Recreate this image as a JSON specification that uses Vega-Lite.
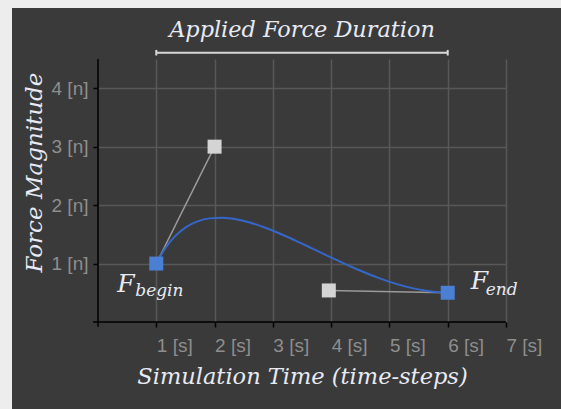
{
  "$schema": "https://vega.github.io/schema/vega-lite/v6.json",
  "width": 408,
  "height": 263,
  "autosize": {"type": "none"},
  "padding": {"left": 98, "top": 59, "right": 55, "bottom": 87},
  "background": "#3a3a3a",
  "config": {"view": {"stroke": null}},
  "datasets": {
    "points": [
      {"name": "F_begin", "x": 1, "y": 1, "kind": "endpoint", "handle": "begin", "symbol": "F", "sub": "begin"},
      {"name": "C1", "x": 2, "y": 3, "kind": "control", "handle": "begin", "symbol": "", "sub": ""},
      {"name": "C2", "x": 3.96, "y": 0.54, "kind": "control", "handle": "end", "symbol": "", "sub": ""},
      {"name": "F_end", "x": 6, "y": 0.5, "kind": "endpoint", "handle": "end", "symbol": "F", "sub": "end"}
    ],
    "curve": [
      {"step": 0, "x": 1.0, "y": 1.0},
      {"step": 1, "x": 1.157, "y": 1.268},
      {"step": 2, "x": 1.328, "y": 1.473},
      {"step": 3, "x": 1.511, "y": 1.623},
      {"step": 4, "x": 1.707, "y": 1.721},
      {"step": 5, "x": 1.915, "y": 1.773},
      {"step": 6, "x": 2.134, "y": 1.784},
      {"step": 7, "x": 2.363, "y": 1.758},
      {"step": 8, "x": 2.602, "y": 1.702},
      {"step": 9, "x": 2.85, "y": 1.621},
      {"step": 10, "x": 3.106, "y": 1.519},
      {"step": 11, "x": 3.371, "y": 1.401},
      {"step": 12, "x": 3.642, "y": 1.274},
      {"step": 13, "x": 3.921, "y": 1.141},
      {"step": 14, "x": 4.205, "y": 1.008},
      {"step": 15, "x": 4.495, "y": 0.881},
      {"step": 16, "x": 4.789, "y": 0.763},
      {"step": 17, "x": 5.087, "y": 0.661},
      {"step": 18, "x": 5.389, "y": 0.58},
      {"step": 19, "x": 5.693, "y": 0.525},
      {"step": 20, "x": 6.0, "y": 0.5}
    ],
    "duration": [{"start": 1, "end": 6, "label": "Applied Force Duration"}]
  },
  "layer": [
    {
      "data": {"name": "points"},
      "mark": {"type": "line", "color": "#9a9a9a", "strokeWidth": 1.5},
      "encoding": {
        "x": {
          "field": "x", "type": "quantitative",
          "scale": {"domain": [0, 7], "nice": false, "zero": false},
          "axis": {
            "title": "Simulation Time (time-steps)",
            "values": [1, 2, 3, 4, 5, 6, 7],
            "labelExpr": "datum.value + ' [s]'",
            "labelAlign": "left", "labelDx": -6, "labelPadding": 9,
            "labelFont": "Liberation Sans", "labelFontSize": 19, "labelColor": "#8e8e8e",
            "labelOverlap": false, "labelFlush": false,
            "tickColor": "#000000", "tickSize": 5, "tickWidth": 1.5,
            "domain": false,
            "grid": true, "gridColor": "#585858", "gridWidth": 1.5,
            "titleFont": "DejaVu Serif", "titleFontStyle": "italic", "titleFontWeight": "normal",
            "titleFontSize": 22.5, "titleColor": "#e8eaf4",
            "titleBaseline": "alphabetic", "titleAlign": "center", "titleX": 204, "titleY": 61
          }
        },
        "y": {
          "field": "y", "type": "quantitative",
          "scale": {"domain": [0, 4.5], "nice": false, "zero": false},
          "axis": {
            "title": "Force Magnitude",
            "values": [1, 2, 3, 4],
            "labelExpr": "datum.value + ' [n]'",
            "labelAlign": "right", "labelPadding": 5,
            "labelFont": "Liberation Sans", "labelFontSize": 19, "labelColor": "#8e8e8e",
            "labelOverlap": false, "labelFlush": false,
            "tickColor": "#000000", "tickSize": 5, "tickWidth": 1.5,
            "domain": false,
            "grid": true, "gridColor": "#585858", "gridWidth": 1.5,
            "titleFont": "DejaVu Serif", "titleFontStyle": "italic", "titleFontWeight": "normal",
            "titleFontSize": 23, "titleColor": "#e8eaf4",
            "titleAngle": 270, "titleBaseline": "alphabetic", "titleAlign": "center", "titleX": -57, "titleY": 113
          }
        },
        "detail": {"field": "handle"}
      }
    },
    {
      "data": {"name": "curve"},
      "mark": {"type": "line", "color": "#3567c9", "strokeWidth": 2, "interpolate": "monotone"},
      "encoding": {
        "x": {"field": "x", "type": "quantitative"},
        "y": {"field": "y", "type": "quantitative"},
        "order": {"field": "step"}
      }
    },
    {
      "data": {"name": "points"},
      "mark": {"type": "point", "shape": "square", "filled": true, "opacity": 1, "size": 196},
      "encoding": {
        "x": {"field": "x", "type": "quantitative"},
        "y": {"field": "y", "type": "quantitative"},
        "color": {"field": "kind", "type": "nominal", "scale": {"domain": ["endpoint", "control"], "range": ["#4a7fd4", "#d4d4d4"]}, "legend": null}
      }
    },
    {
      "data": {"values": [{}]},
      "mark": {"type": "rule", "color": "#000000", "strokeWidth": 1.5},
      "encoding": {"x": {"datum": -0.086}, "x2": {"datum": 7}, "y": {"datum": 0}}
    },
    {
      "data": {"values": [{}]},
      "mark": {"type": "rule", "color": "#000000", "strokeWidth": 1.5},
      "encoding": {"x": {"datum": 0}, "y": {"datum": -0.08}, "y2": {"datum": 4.5}}
    },
    {
      "data": {"name": "duration"},
      "mark": {"type": "rule", "color": "#d8d8d8", "strokeWidth": 2},
      "encoding": {"x": {"field": "start", "type": "quantitative"}, "x2": {"field": "end"}, "y": {"datum": 4.608}}
    },
    {
      "data": {"name": "duration"},
      "mark": {"type": "rule", "color": "#d8d8d8", "strokeWidth": 2},
      "encoding": {"x": {"field": "start", "type": "quantitative"}, "y": {"datum": 4.56}, "y2": {"datum": 4.655}}
    },
    {
      "data": {"name": "duration"},
      "mark": {"type": "rule", "color": "#d8d8d8", "strokeWidth": 2},
      "encoding": {"x": {"field": "end", "type": "quantitative"}, "y": {"datum": 4.56}, "y2": {"datum": 4.655}}
    },
    {
      "data": {"name": "duration"},
      "mark": {"type": "text", "font": "DejaVu Serif", "fontStyle": "italic", "fontSize": 22.4, "color": "#e8eaf4", "align": "center", "baseline": "alphabetic"},
      "encoding": {"x": {"datum": 3.5}, "y": {"datum": 4.882}, "text": {"field": "label"}}
    },
    {
      "data": {"name": "points"},
      "transform": [{"filter": "datum.name == 'F_begin'"}],
      "mark": {"type": "text", "font": "DejaVu Serif", "fontStyle": "italic", "fontSize": 25, "color": "#e8eaf4", "align": "left", "baseline": "alphabetic", "dx": -39, "dy": 28},
      "encoding": {"x": {"field": "x", "type": "quantitative"}, "y": {"field": "y", "type": "quantitative"}, "text": {"field": "symbol"}}
    },
    {
      "data": {"name": "points"},
      "transform": [{"filter": "datum.name == 'F_begin'"}],
      "mark": {"type": "text", "font": "DejaVu Serif", "fontStyle": "italic", "fontSize": 17, "color": "#e8eaf4", "align": "left", "baseline": "alphabetic", "dx": -21, "dy": 32},
      "encoding": {"x": {"field": "x", "type": "quantitative"}, "y": {"field": "y", "type": "quantitative"}, "text": {"field": "sub"}}
    },
    {
      "data": {"name": "points"},
      "transform": [{"filter": "datum.name == 'F_end'"}],
      "mark": {"type": "text", "font": "DejaVu Serif", "fontStyle": "italic", "fontSize": 25, "color": "#e8eaf4", "align": "left", "baseline": "alphabetic", "dx": 23, "dy": -4},
      "encoding": {"x": {"field": "x", "type": "quantitative"}, "y": {"field": "y", "type": "quantitative"}, "text": {"field": "symbol"}}
    },
    {
      "data": {"name": "points"},
      "transform": [{"filter": "datum.name == 'F_end'"}],
      "mark": {"type": "text", "font": "DejaVu Serif", "fontStyle": "italic", "fontSize": 17, "color": "#e8eaf4", "align": "left", "baseline": "alphabetic", "dx": 38, "dy": 2},
      "encoding": {"x": {"field": "x", "type": "quantitative"}, "y": {"field": "y", "type": "quantitative"}, "text": {"field": "sub"}}
    },
    {
      "data": {"values": [{}]},
      "mark": {"type": "rect", "color": "#ededed"},
      "encoding": {"x": {"datum": -2.2}, "x2": {"datum": -1.4755}, "y": {"datum": -2}, "y2": {"datum": 6}}
    },
    {
      "data": {"values": [{}]},
      "mark": {"type": "rect", "color": "#ededed"},
      "encoding": {"x": {"datum": -2.2}, "x2": {"datum": 8.5}, "y": {"datum": 5.373}, "y2": {"datum": 6}}
    }
  ]
}
